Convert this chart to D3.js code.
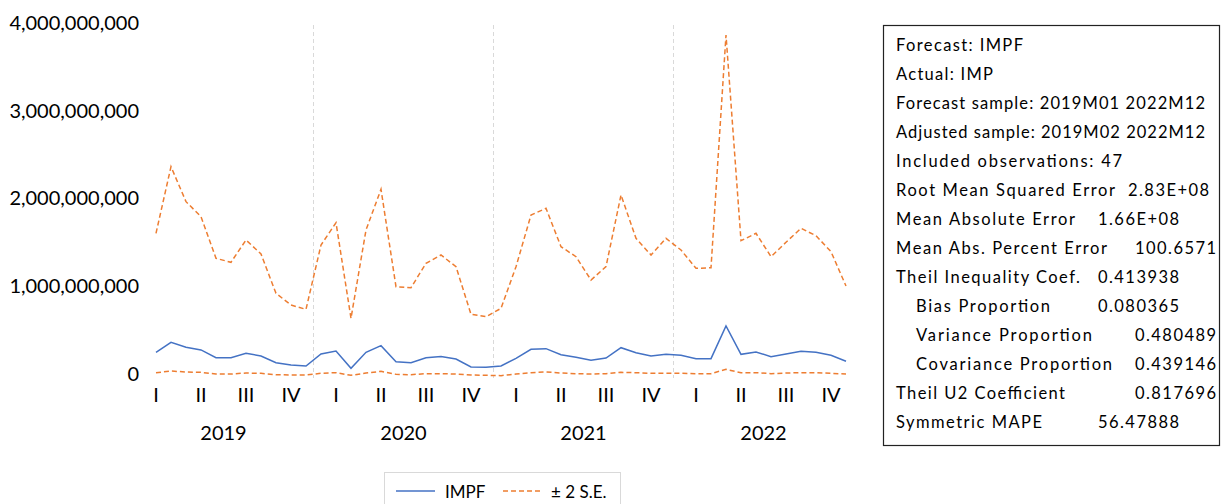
<!DOCTYPE html>
<html>
<head>
<meta charset="utf-8">
<script src="https://cdn.jsdelivr.net/npm/d3@7"></script>
<style>
  html, body { margin: 0; padding: 0; background: #fff; }
  svg { display: block; font-family: Lato, "Open Sans", sans-serif; }
</style>
</head>
<body>
<svg id="chart" width="1225" height="504"></svg>
<script>
// ---- data (2019M02 .. 2022M12, 47 monthly observations) ----
const years = ["2019", "2020", "2021", "2022"];
const quarterLabels = ["I", "II", "III", "IV"];
const yTicks = [0, 1e9, 2e9, 3e9, 4e9];

const impf = [
  0.247, 0.361, 0.304, 0.274, 0.186, 0.186, 0.236, 0.205, 0.129, 0.103, 0.091,
  0.228, 0.262, 0.065, 0.247, 0.323, 0.140, 0.129, 0.186, 0.198, 0.171, 0.080, 0.076,
  0.091, 0.179, 0.281, 0.289, 0.220, 0.190, 0.156, 0.182, 0.300, 0.243, 0.205, 0.224,
  0.213, 0.175, 0.175, 0.547, 0.224, 0.251, 0.198, 0.228, 0.259, 0.247, 0.213, 0.145
].map(v => v * 1e9);

const upperSE = [
  1.603, 2.363, 1.964, 1.793, 1.318, 1.273, 1.527, 1.368, 0.919, 0.786, 0.737,
  1.470, 1.724, 0.635, 1.641, 2.105, 0.995, 0.984, 1.261, 1.356, 1.223, 0.680, 0.653,
  0.748, 1.223, 1.812, 1.888, 1.451, 1.337, 1.071, 1.223, 2.040, 1.546, 1.356, 1.546,
  1.413, 1.204, 1.211, 3.863, 1.519, 1.603, 1.337, 1.501, 1.660, 1.576, 1.394, 1.003
].map(v => v * 1e9);

const lowerSE = [
  0.015, 0.034, 0.023, 0.019, 0.000, 0.000, 0.011, 0.008, -0.008, -0.011, -0.011,
  0.008, 0.015, -0.015, 0.011, 0.030, -0.004, -0.008, 0.004, 0.004, 0.000, -0.011, -0.015,
  -0.019, 0.000, 0.015, 0.023, 0.011, 0.004, 0.000, 0.004, 0.019, 0.015, 0.008, 0.008,
  0.008, 0.004, 0.004, 0.053, 0.015, 0.015, 0.004, 0.011, 0.015, 0.015, 0.008, 0.000
].map(v => v * 1e9);

const statLabels = [
  "Forecast: IMPF",
  "Actual: IMP",
  "Forecast sample: 2019M01 2022M12",
  "Adjusted sample: 2019M02 2022M12",
  "Included observations: 47",
  "Root Mean Squared Error",
  "Mean Absolute Error",
  "Mean Abs. Percent Error",
  "Theil Inequality Coef.",
  "Bias Proportion",
  "Variance Proportion",
  "Covariance Proportion",
  "Theil U2 Coefficient",
  "Symmetric MAPE"
];
const statValues = [
  "", "", "", "", "",
  "2.83E+08", "1.66E+08", "100.6571", "0.413938",
  "0.080365", "0.480489", "0.439146", "0.817696", "56.47888"
];

// ---- layout ----
const svg = d3.select("#chart");
const months = d3.range(1, 48); // month index from Jan 2019 (0); data starts Feb 2019
const x = d3.scaleLinear().domain([1, 47]).range([156, 846]);
const y = d3.scaleLinear().domain([0, 4e9]).range([374, 23]);

const blue = "#4472C4";
const orange = "#ED7D31";

// gridlines at year boundaries
svg.append("g").selectAll("line")
  .data([1, 2, 3])
  .join("line")
  .attr("x1", d => x(12 * d - 0.5)).attr("x2", d => x(12 * d - 0.5))
  .attr("y1", y(4e9) + 2).attr("y2", y(0) + 4)
  .attr("stroke", "#d9d9d9").attr("stroke-width", 1)
  .attr("stroke-dasharray", "4,3");

// y axis labels
const yAxis = d3.axisLeft(y).tickValues(yTicks)
  .tickFormat(d3.format(",")).tickSize(0).tickPadding(0);
const yg = svg.append("g").attr("transform", "translate(139,0)").call(yAxis);
yg.select(".domain").remove();
yg.selectAll("text").attr("font-size", 20).attr("fill", "#000")
  .attr("font-family", "Lato, sans-serif");

// quarter labels
const qData = [];
years.forEach((yr, yi) => quarterLabels.forEach((q, qi) => qData.push({ q, m: 12 * yi + 3 * qi + 1 })));
svg.append("g").selectAll("text").data(qData).join("text")
  .attr("x", d => x(d.m)).attr("y", 402)
  .attr("text-anchor", "middle").attr("font-size", 20).attr("fill", "#000")
  .text(d => d.q);

// year labels
svg.append("g").selectAll("text").data(years).join("text")
  .attr("x", (d, i) => x(12 * i + 5.5)).attr("y", 440)
  .attr("text-anchor", "middle").attr("font-size", 20).attr("fill", "#000")
  .text(d => d);

// lines
const line = d3.line().x((d, i) => x(months[i])).y(d => y(d));
svg.append("path").datum(upperSE).attr("d", line)
  .attr("fill", "none").attr("stroke", orange).attr("stroke-width", 1.5)
  .attr("stroke-dasharray", "5,3");
svg.append("path").datum(lowerSE).attr("d", line)
  .attr("fill", "none").attr("stroke", orange).attr("stroke-width", 1.5)
  .attr("stroke-dasharray", "5,3");
svg.append("path").datum(impf).attr("d", line)
  .attr("fill", "none").attr("stroke", blue).attr("stroke-width", 1.5);

// legend
const lg = svg.append("g");
lg.append("rect").attr("x", 384.5).attr("y", 472.5).attr("width", 236).attr("height", 40)
  .attr("fill", "#fff").attr("stroke", "#d9d9d9");
lg.append("line").attr("x1", 396).attr("x2", 435).attr("y1", 491).attr("y2", 491)
  .attr("stroke", blue).attr("stroke-width", 1.5);
lg.append("text").attr("x", 445).attr("y", 498).attr("font-size", 17).text("IMPF");
lg.append("line").attr("x1", 503).attr("x2", 542).attr("y1", 491).attr("y2", 491)
  .attr("stroke", orange).attr("stroke-width", 1.5).attr("stroke-dasharray", "5,3");
lg.append("text").attr("x", 551).attr("y", 498).attr("font-size", 17).text("\u00B1 2 S.E.");

// stats box
const sb = svg.append("g");
sb.append("rect").attr("x", 883.5).attr("y", 25.5).attr("width", 336).attr("height", 420)
  .attr("fill", "#fff").attr("stroke", "#222").attr("stroke-width", 1.2);
const indentRows = new Set([9, 10, 11]);
const labelWidths = [127, 97, 309, 309, 226, 219, 179, 211, 184, 134, 176, 196, 169, 146];
const valueX = [0, 0, 0, 0, 0, 1128, 1098, 1135, 1098, 1098, 1135, 1135, 1135, 1098];
statLabels.forEach((lab, i) => {
  const by = 51 + i * 29;
  sb.append("text").attr("x", indentRows.has(i) ? 916 : 896).attr("y", by)
    .attr("font-size", 16.5).attr("fill", "#000")
    .attr("textLength", labelWidths[i]).attr("lengthAdjust", "spacing")
    .text(lab);
  if (statValues[i]) {
    sb.append("text").attr("x", valueX[i]).attr("y", by)
      .attr("font-size", 16.5).attr("fill", "#000")
      .attr("textLength", 81).attr("lengthAdjust", "spacing")
      .text(statValues[i]);
  }
});
</script>
</body>
</html>
